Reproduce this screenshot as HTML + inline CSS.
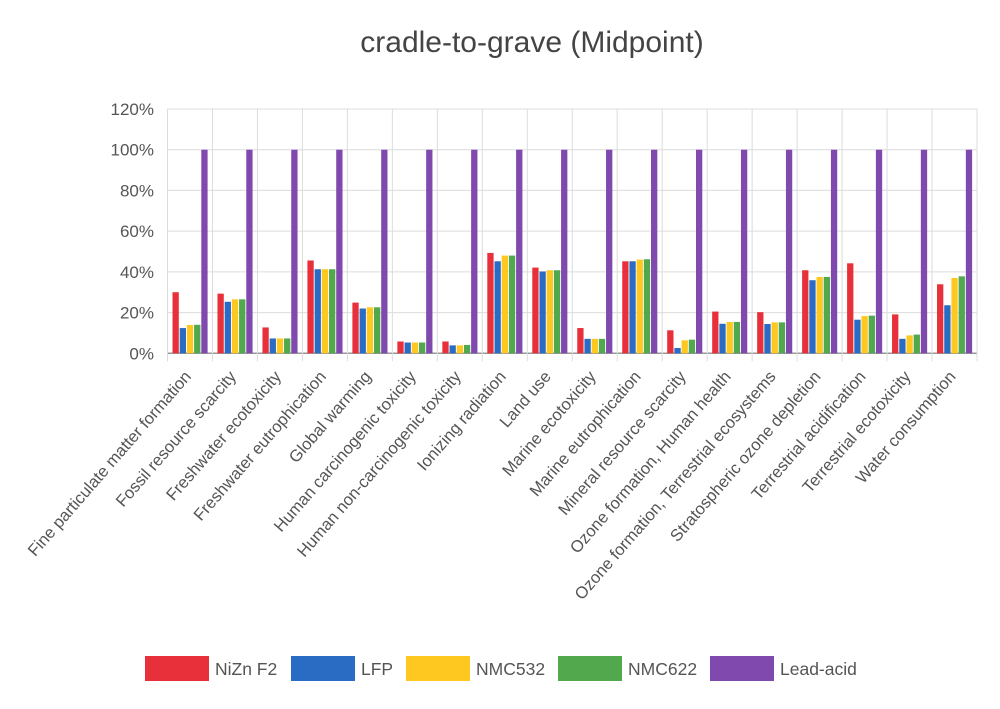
<!DOCTYPE html>
<html><head><meta charset="utf-8"><style>
html,body{margin:0;padding:0;background:#fff;}
svg{display:block;font-family:"Liberation Sans",Arial,sans-serif;}
</style></head><body>
<svg id="chart" width="1000" height="709" viewBox="0 0 1000 709" xmlns="http://www.w3.org/2000/svg">
<rect width="1000" height="709" fill="#fff"/>
<text x="532" y="52" text-anchor="middle" font-size="30" fill="#444">cradle-to-grave (Midpoint)</text>
<g id="grid"></g><g id="bars"></g><g id="yticks"></g><g id="xlabels"></g><g id="legend"></g>
</svg>
<script>
const categories=["Fine particulate matter formation","Fossil resource scarcity","Freshwater ecotoxicity","Freshwater eutrophication","Global warming","Human carcinogenic toxicity","Human non-carcinogenic toxicity","Ionizing radiation","Land use","Marine ecotoxicity","Marine eutrophication","Mineral resource scarcity","Ozone formation, Human health","Ozone formation, Terrestrial ecosystems","Stratospheric ozone depletion","Terrestrial acidification","Terrestrial ecotoxicity","Water consumption"];
const seriesNames=["NiZn F2","LFP","NMC532","NMC622","Lead-acid"];
const seriesColors=["#e8303a","#2a6cc4","#ffc820","#52a84c","#8049ad"];
const nizn=[30,29.3,12.7,45.6,24.9,5.8,5.8,49.3,42.1,12.4,45.2,11.3,20.5,20.2,40.8,44.2,19.1,33.9];
const lfp=[12.4,25.3,7.3,41.3,22,5.3,3.9,45.2,40.2,7.1,45.2,2.6,14.5,14.4,35.9,16.5,7.1,23.6];
const nmc532=[13.9,26.5,7.3,41.3,22.6,5.3,3.9,48,40.8,7.1,46,6.4,15.4,15.2,37.5,18.3,8.8,37];
const nmc622=[14,26.5,7.3,41.3,22.6,5.3,4.1,48,40.8,7.1,46.2,6.7,15.4,15.2,37.5,18.5,9.2,37.8];
const leadAcid=[100,100,100,100,100,100,100,100,100,100,100,100,100,100,100,100,100,100];
const yTicks=[0,20,40,60,80,100,120];
const series=[nizn,lfp,nmc532,nmc622,leadAcid];
const NS="http://www.w3.org/2000/svg";
const x0=167.5,x1=977,y0=353.3,yTop=109;
const bw=(x1-x0)/categories.length;
const y=v=>y0-(v/120)*(y0-yTop);
const xc=i=>x0+i*bw;
function mk(t,a,p){const e=document.createElementNS(NS,t);for(const k in a)e.setAttribute(k,a[k]);p.appendChild(e);return e;}
const grid=document.getElementById('grid');
yTicks.forEach(t=>{
 const l=mk('line',{x1:x0,x2:x1,y1:y(t),y2:y(t),stroke:t===0?'#999':'#dcdcdc','stroke-width':t===0?1.5:1},grid);
 
 
 const tx=mk('text',{x:154,y:y(t)+6,'text-anchor':'end','font-size':17,fill:'#555'},document.getElementById('yticks'));
 tx.textContent=t+'%';
 
 
});
for(let i=0;i<=categories.length;i++){
 const l=mk('line',{x1:xc(i),x2:xc(i),y1:yTop,y2:y0+8,stroke:'#dcdcdc','stroke-width':1},grid);
 
 
}
const bars=document.getElementById('bars');
categories.forEach((c,i)=>{
 series.forEach((s,j)=>{
  const r=mk('rect',{x:xc(i)+5+j*7.2,y:y(s[i]),width:6.3,height:y0-y(s[i]),fill:seriesColors[j]},bars);
  
  
 });
 const cx=xc(i)+bw/2+2, cy=377;
 const t=mk('text',{x:cx,y:cy,'text-anchor':'end','font-size':16.6,fill:'#555',transform:`rotate(-49 ${cx} ${cy})`},document.getElementById('xlabels'));
 t.textContent=c;
 
 
});
const legend=document.getElementById('legend');
const lx=[145,291,406,558,710];
seriesNames.forEach((n,j)=>{
 const g=mk('g',{},legend);
 
 
 mk('rect',{x:lx[j],y:656,width:64,height:25,fill:seriesColors[j]},g);
 const t=mk('text',{x:lx[j]+70,y:675,'font-size':17.5,fill:'#555'},g);
 t.textContent=n;
});
</script>
</body></html>
